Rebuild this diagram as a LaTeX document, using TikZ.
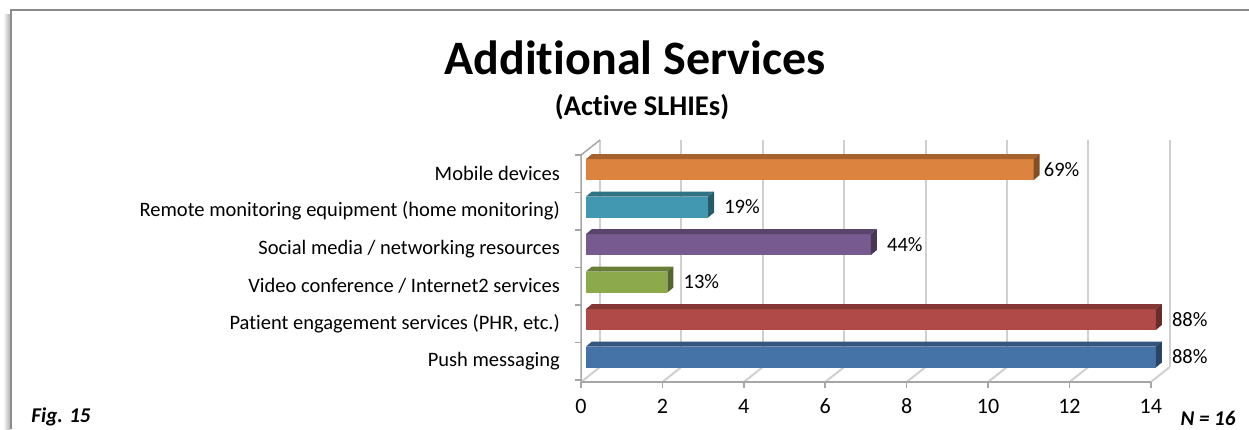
\documentclass[tikz,border=0pt]{standalone}
\usepackage{fontspec}
\setmainfont{Carlito}[Ligatures=NoCommon]
\usepackage{tikz}
\usetikzlibrary{positioning}

\definecolor{frameGray}{HTML}{8C8C8C}
\definecolor{gridGray}{HTML}{D0D0D0}
\definecolor{axisGray}{HTML}{A6A6A6}
\definecolor{barOrange}{HTML}{DC833F}
\definecolor{barTeal}{HTML}{4298B0}
\definecolor{barPurple}{HTML}{775A8F}
\definecolor{barGreen}{HTML}{8CA94B}
\definecolor{barRed}{HTML}{B04A48}
\definecolor{barBlue}{HTML}{4573A8}

\tikzstyle{bar}=[rectangle, inner sep=0pt, outer sep=0pt, minimum height=21pt, anchor=west]
\tikzstyle{catlabel}=[anchor=east, inner sep=0pt, font=\fontsize{20.5}{24}\selectfont]
\tikzstyle{pct}=[inner sep=0pt, font=\fontsize{20.5}{24}\selectfont]
\tikzstyle{ticklabel}=[inner sep=0pt, font=\fontsize{22}{26}\selectfont]
\tikzstyle{grid}=[gridGray, line width=2pt]
\tikzstyle{axis}=[axisGray, line width=1.5pt]

\begin{document}
\begin{tikzpicture}[x=1pt, y=-1pt]
    \useasboundingbox (0,0) rectangle (1249,429);

    % frame with shadow
    \shade[left color=white, right color=black!30] (3,14) rectangle (10,429);
    \draw[frameGray, line width=2pt] (11,429) -- (11,10) -- (1249,10);

    % titles
    \node[font=\fontsize{48}{56}\selectfont\bfseries] (title) at (635,58) {Additional Services};
    \node[font=\fontsize{28.5}{34}\selectfont\bfseries] (subtitle) at (642,107) {(Active SLHIEs)};

    % back wall grid
    \foreach \k in {0,...,7} {
        \draw[grid] (600+81.4*\k,140) -- (600+81.4*\k,367);
    }
    % floor
    \foreach \k in {0,...,7} {
        \draw[grid] (581+81.4*\k,382) -- (600+81.4*\k,367);
        \draw[axis] (581+81.4*\k,382) -- (581+81.4*\k,388);
    }
    \draw[axis] (581,382) -- (1151,382);
    % left wall
    \draw[axis] (600,140) -- (581,155) -- (581,382);
    \foreach \k in {0,...,6} {
        \draw[axis] (575,155+37.5*\k) -- (581,155+37.5*\k);
    }

    % bars
    \node[bar, fill=barOrange, minimum width=447.7pt] (bMobile) at (586,169.5) {};
    \node[bar, fill=barTeal, minimum width=122.1pt] (bRemote) at (586,207) {};
    \node[bar, fill=barPurple, minimum width=284.9pt] (bSocial) at (586,244.5) {};
    \node[bar, fill=barGreen, minimum width=81.4pt] (bVideo) at (586,282) {};
    \node[bar, fill=barRed, minimum width=569.8pt] (bPatient) at (586,319.5) {};
    \node[bar, fill=barBlue, minimum width=569.8pt] (bPush) at (586,357) {};

    % top and side faces
    \fill[barOrange!75!black] (bMobile.north west) -- ++(6,-5) -- ++(447.7,0) -- (bMobile.north east) -- cycle;
    \fill[barOrange!60!black] (bMobile.north east) -- ++(6,-5) -- ++(0,21) -- (bMobile.south east) -- cycle;
    \fill[barTeal!75!black] (bRemote.north west) -- ++(6,-5) -- ++(122.1,0) -- (bRemote.north east) -- cycle;
    \fill[barTeal!60!black] (bRemote.north east) -- ++(6,-5) -- ++(0,21) -- (bRemote.south east) -- cycle;
    \fill[barPurple!75!black] (bSocial.north west) -- ++(6,-5) -- ++(284.9,0) -- (bSocial.north east) -- cycle;
    \fill[barPurple!60!black] (bSocial.north east) -- ++(6,-5) -- ++(0,21) -- (bSocial.south east) -- cycle;
    \fill[barGreen!75!black] (bVideo.north west) -- ++(6,-5) -- ++(81.4,0) -- (bVideo.north east) -- cycle;
    \fill[barGreen!60!black] (bVideo.north east) -- ++(6,-5) -- ++(0,21) -- (bVideo.south east) -- cycle;
    \fill[barRed!75!black] (bPatient.north west) -- ++(6,-5) -- ++(569.8,0) -- (bPatient.north east) -- cycle;
    \fill[barRed!60!black] (bPatient.north east) -- ++(6,-5) -- ++(0,21) -- (bPatient.south east) -- cycle;
    \fill[barBlue!75!black] (bPush.north west) -- ++(6,-5) -- ++(569.8,0) -- (bPush.north east) -- cycle;
    \fill[barBlue!60!black] (bPush.north east) -- ++(6,-5) -- ++(0,21) -- (bPush.south east) -- cycle;

    % value labels
    \node[pct, right=10pt of bMobile] (vMobile) {69\%};
    \node[pct, right=16pt of bRemote] (vRemote) {19\%};
    \node[pct, right=16pt of bSocial] (vSocial) {44\%};
    \node[pct, right=16pt of bVideo] (vVideo) {13\%};
    \node[pct, right=16pt of bPatient] (vPatient) {88\%};
    \node[pct, right=16pt of bPush] (vPush) {88\%};

    % category labels
    \node[catlabel] (lMobile) at (560,173.75) {Mobile devices};
    \node[catlabel] (lRemote) at (560,211.25) {Remote monitoring equipment (home monitoring)};
    \node[catlabel] (lSocial) at (560,248.75) {Social media / networking resources};
    \node[catlabel] (lVideo) at (560,286.25) {Video conference / Internet2 services};
    \node[catlabel] (lPatient) at (560,323.75) {Patient engagement services (PHR, etc.)};
    \node[catlabel] (lPush) at (560,361.25) {Push messaging};

    % axis numbers
    \node[ticklabel] (t0) at (581,406) {0};
    \node[ticklabel] (t2) at (662.4,406) {2};
    \node[ticklabel] (t4) at (743.8,406) {4};
    \node[ticklabel] (t6) at (825.2,406) {6};
    \node[ticklabel] (t8) at (906.6,406) {8};
    \node[ticklabel] (t10) at (988,406) {10};
    \node[ticklabel] (t12) at (1069.4,406) {12};
    \node[ticklabel] (t14) at (1150.8,406) {14};

    % notes
    \node[font=\fontsize{21}{25}\selectfont\bfseries\itshape] (fig) at (61,417) {Fig. 15};
    \node[font=\fontsize{21}{25}\selectfont\bfseries\itshape] (nval) at (1208,418) {N = 16};
\end{tikzpicture}
\end{document}
